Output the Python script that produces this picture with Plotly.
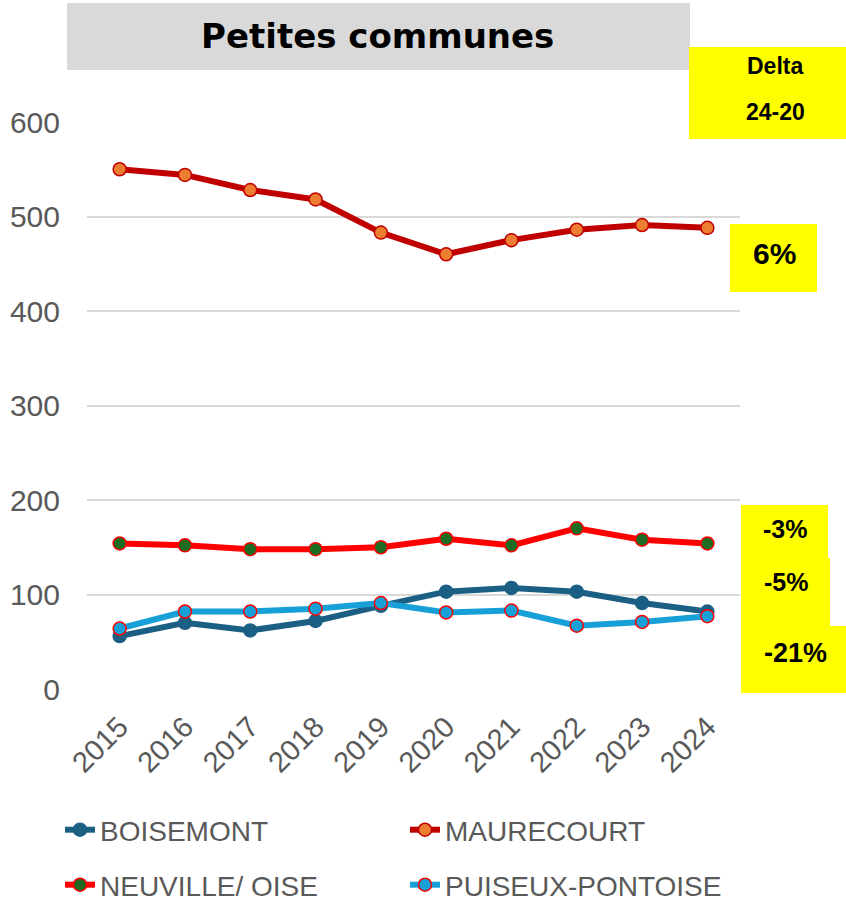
import plotly.graph_objects as go

# ---- data ----
years = ["2015", "2016", "2017", "2018", "2019", "2020", "2021", "2022", "2023", "2024"]
boisemont = [56, 70, 62, 72, 88, 103, 107, 103, 91, 82]
maurecourt = [550, 544, 528, 518, 483, 460, 475, 486, 491, 488]
neuville = [154, 152, 148, 148, 150, 159, 152, 170, 158, 154]
puiseux = [64, 82, 82, 85, 91, 81, 83, 67, 71, 77]
series_names = ["BOISEMONT", "MAURECOURT", "NEUVILLE/ OISE", "PUISEUX-PONTOISE"]
delta_header = ["Delta", "24-20"]
delta_labels = ["6%", "-3%", "-5%", "-21%"]
title_text = "Petites communes"

FONT = "Liberation Sans"
GREY = "#595959"

# pixel -> paper helpers (plot area 87..740 x, 122..689 y)
L, R, T, B = 87, 740, 122, 689
def px(p):
    return (p - L) / (R - L)
def py(p):
    return (B - p) / (B - T)

styles = [
    dict(line=dict(color="#1b5f84", width=6), marker=dict(color="#1b5f84", size=13, line=dict(color="#1b5f84", width=1.5))),
    dict(line=dict(color="#c00000", width=6), marker=dict(color="#ed7d31", size=13, line=dict(color="#c00000", width=1.5))),
    dict(line=dict(color="#ff0000", width=6), marker=dict(color="#1e6b24", size=13, line=dict(color="#ff0000", width=1.5))),
    dict(line=dict(color="#17a0d8", width=6), marker=dict(color="#17a0d8", size=13, line=dict(color="#ff0000", width=1.5))),
]
legend_ids = ["legend", "legend", "legend2", "legend2"]

fig = go.Figure()
for name, vals, st, lg in zip(series_names, [boisemont, maurecourt, neuville, puiseux], styles, legend_ids):
    fig.add_trace(go.Scatter(x=years, y=vals, name=name, mode="lines+markers",
                             line=st["line"], marker=st["marker"], legend=lg))

shapes = []
annotations = []
# title box
shapes.append(dict(type="rect", xref="paper", yref="paper", x0=px(67), x1=px(690), y0=py(70), y1=py(3),
                   fillcolor="#d9d9d9", line=dict(width=0), layer="above"))
annotations.append(dict(xref="paper", yref="paper", x=px(377), y=py(36), text="<b>%s</b>" % title_text,
                        showarrow=False, xanchor="center", yanchor="middle",
                        font=dict(family="DejaVu Sans", size=34, color="black")))
# yellow boxes
boxes = [
    (689, 846, 47, 139),
    (730, 817, 224, 292),
    (741, 828, 505, 560),
    (741, 830, 558, 628),
    (741, 846, 626, 693),
]
for x0, x1, y0, y1 in boxes:
    shapes.append(dict(type="rect", xref="paper", yref="paper", x0=px(x0), x1=px(x1), y0=py(y1), y1=py(y0),
                       fillcolor="#ffff00", line=dict(width=0), layer="above"))
# delta header
for txt, cy in zip(delta_header, [66, 112]):
    annotations.append(dict(xref="paper", yref="paper", x=px(775), y=py(cy), text="<b>%s</b>" % txt,
                            showarrow=False, xanchor="center", yanchor="middle",
                            font=dict(family=FONT, size=23, color="black")))
label_pos = [(774, 253, 30), (785, 529, 25), (786, 582, 25), (795, 653, 27)]
for txt, (cx, cy, fs) in zip(delta_labels, label_pos):
    annotations.append(dict(xref="paper", yref="paper", x=px(cx), y=py(cy), text="<b>%s</b>" % txt,
                            showarrow=False, xanchor="center", yanchor="middle",
                            font=dict(family=FONT, size=fs, color="black")))

legend_common = dict(orientation="h", xanchor="left", yanchor="middle", entrywidth=300,
                     entrywidthmode="pixels", bgcolor="rgba(0,0,0,0)",
                     font=dict(family=FONT, size=28, color=GREY), itemsizing="trace")

fig.update_layout(
    width=846, height=909,
    margin=dict(l=L, r=846 - R, t=T, b=909 - B, pad=0, autoexpand=False),
    paper_bgcolor="white", plot_bgcolor="white",
    font=dict(family=FONT, color=GREY),
    showlegend=True,
    legend=dict(x=px(60), y=py(830), **legend_common),
    legend2=dict(x=px(60), y=py(885), **legend_common),
    xaxis=dict(type="category", range=[-0.5, 9.5], tickangle=-45, showgrid=False, zeroline=False,
               showline=False, ticks="", ticklabelstandoff=14,
               tickfont=dict(family=FONT, size=29, color=GREY)),
    yaxis=dict(range=[0, 600], dtick=100, showgrid=True, gridcolor="#d9d9d9", gridwidth=1.5,
               zeroline=False, showline=False, ticks="", ticklabelstandoff=26,
               tickfont=dict(family=FONT, size=30, color=GREY)),
    shapes=shapes, annotations=annotations,
)

fig.write_html("out.html", config={"displayModeBar": False},
               post_script="document.body.style.margin='0';")
